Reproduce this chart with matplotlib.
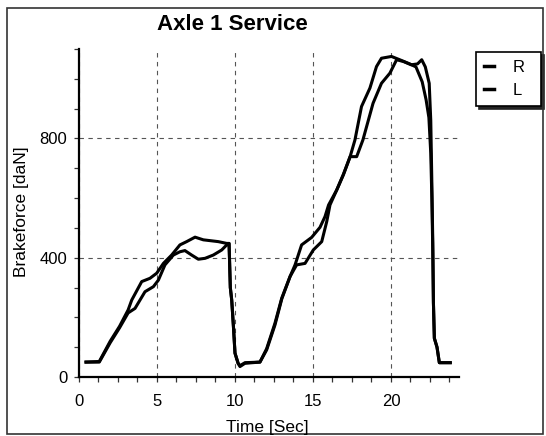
import matplotlib
matplotlib.use("Agg")
import matplotlib.pyplot as plt
from matplotlib.patches import Rectangle
from matplotlib.ticker import MultipleLocator

plt.rcParams['font.family'] = ['Liberation Sans', 'DejaVu Sans']

# Brake force traces, axle 1 service brake
time_r = [0.45, 1.3, 2.0, 2.6, 3.15, 3.38, 4.02, 4.55, 4.98, 5.41, 5.94, 6.47, 6.9,
          7.44, 7.97, 8.93, 9.47, 9.62, 9.7, 9.79, 9.9, 10.0, 10.2, 10.32, 10.64,
          11.6, 12.03, 12.56, 13.0, 13.53, 13.85, 14.27, 14.91, 15.45, 15.77, 16.0,
          16.52, 16.95, 17.38, 17.69, 18.11, 18.65, 19.07, 19.39, 20.03, 20.56,
          21.2, 21.6, 22.0, 22.25, 22.43, 22.55, 22.62, 22.68, 22.72, 22.78, 22.95,
          23.1, 23.8]
force_r = [50, 52, 120, 170, 225, 258, 320, 331, 348, 381, 409, 443, 454,
           469, 460, 454, 448, 448, 300, 258, 169, 80, 46, 38, 48,
           50, 95, 180, 265, 337, 376, 443, 468, 502, 538, 577,
           627, 680, 739, 795, 907, 969, 1041, 1069, 1075, 1064,
           1050, 1040, 990, 930, 870, 750, 600, 420, 250, 130, 100,
           48, 48]

time_l = [0.45, 1.3, 2.0, 2.6, 3.15, 3.59, 4.23, 4.77, 5.09, 5.51, 6.05, 6.47, 6.79,
          7.22, 7.65, 8.08, 8.61, 9.15, 9.47, 9.62, 9.7, 9.79, 9.9, 10.0, 10.2,
          10.32, 10.64, 11.6, 12.03, 12.56, 13.0, 13.53, 13.95, 14.49, 15.02, 15.56,
          15.88, 16.09, 16.52, 16.95, 17.38, 17.8, 18.2, 18.85, 19.39, 19.93, 20.36,
          20.8, 21.3, 21.7, 21.97, 22.2, 22.45, 22.55, 22.62, 22.68, 22.72, 22.78,
          22.95, 23.1, 23.8]
force_l = [50, 50, 115, 165, 215, 230, 286, 303, 325, 376, 409, 420, 424,
           409, 395, 398, 409, 426, 443, 448, 300, 258, 169, 80, 46,
           35, 46, 50, 91, 174, 262, 337, 376, 381, 426, 454,
           521, 577, 627, 678, 739, 739, 795, 918, 985, 1019, 1064,
           1058, 1047, 1050, 1064, 1040, 985, 860, 650, 450, 250, 130,
           100, 48, 48]

series_labels = ['R', 'L']
x_ticks = [0, 5, 10, 15, 20]
y_ticks = [0, 400, 800]

W, H = 546, 436
fig = plt.figure(figsize=(W / 100, H / 100), dpi=100)
ax = fig.add_axes([79 / W, 1 - 377 / H, (459 - 79) / W, (377 - 49) / H])

ax.plot(time_r, force_r, color='black', lw=2.2, label=series_labels[0])
ax.plot(time_l, force_l, color='black', lw=2.2, label=series_labels[1])

ax.set_xlim(0, 24.36)
ax.set_ylim(0, 1100)
ax.set_xticks(x_ticks)
ax.set_yticks(y_ticks)
ax.xaxis.set_minor_locator(MultipleLocator(1.25))
ax.yaxis.set_minor_locator(MultipleLocator(100))

ax.grid(True, which='major', color='#555555', lw=0.8, linestyle=(0, (4, 4)))
for side in ('top', 'right'):
    ax.spines[side].set_visible(False)
for side in ('left', 'bottom'):
    ax.spines[side].set_linewidth(1.6)
    ax.spines[side].set_color('black')

ax.tick_params(axis='both', which='both', direction='out', length=3.5, width=0.9,
               color='#333333', labelsize=12)
ax.tick_params(axis='x', which='major', pad=8.5)
ax.tick_params(axis='y', which='major', pad=5)

fig.text(232 / W, 1 - 24 / H, 'Axle 1 Service', ha='center', va='center',
         fontsize=16, fontweight='bold')
fig.text(267 / W, 1 - 427 / H, 'Time [Sec]', ha='center', va='center', fontsize=12.5)
fig.text(22 / W, 1 - 212 / H, 'Brakeforce [daN]', ha='center', va='center',
         rotation=90, fontsize=12.5)

# legend box stretched to a fixed width, entries left-aligned inside
leg = ax.legend(loc='upper left', bbox_to_anchor=(476 / W, 1 - 106 / H, 65 / W, 54 / H),
                mode='expand', bbox_transform=fig.transFigure, frameon=True,
                fancybox=False, shadow={'color': '#222222', 'alpha': 1.0},
                edgecolor='black', fontsize=12, handlelength=0.6,
                handletextpad=1.1, labelspacing=0.45, borderpad=0.5,
                borderaxespad=0)
leg.get_frame().set_linewidth(1.2)
for line in leg.get_lines():
    line.set_linewidth(2.5)

# outer frame around the whole figure
fig.patches.append(Rectangle((7 / W, 2 / H), 536 / W, 426 / H, transform=fig.transFigure,
                             fill=False, edgecolor='#333333', lw=1.2))

fig.savefig('out.png', dpi=100, facecolor='white')
